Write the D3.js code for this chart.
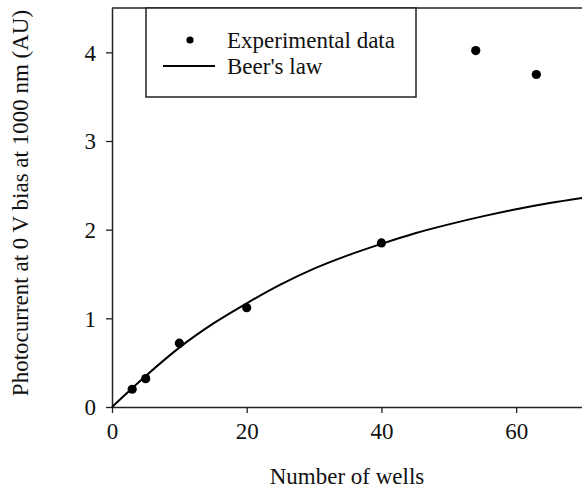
<!DOCTYPE html>
<html>
<head>
<meta charset="utf-8">
<script src="https://cdn.jsdelivr.net/npm/d3@7"></script>
<style>
  body { margin: 0; background: #fff; }
  svg { display: block; }
  text { font-family: "Liberation Serif", "Times New Roman", serif; fill: #111; }
</style>
</head>
<body>
<svg id="chart" width="582" height="489"></svg>
<script>
// experimental points
var wells = [3, 5, 10, 20, 40, 54, 63];
var photocurrent = [0.2, 0.32, 0.72, 1.12, 1.85, 4.02, 3.75];

// Beer's law curve
var fitWells = [0, 5, 10, 15, 20, 25, 30, 35, 40, 45, 50, 55, 60, 65, 70];
var fitCurrent = [0, 0.35, 0.67, 0.94, 1.17, 1.38, 1.56, 1.71, 1.84, 1.96, 2.06, 2.15, 2.23, 2.30, 2.36];

var xTicks = [0, 20, 40, 60];
var yTicks = [0, 1, 2, 3, 4];

var xTitle = "Number of wells";
var yTitle = "Photocurrent at 0 V bias at 1000 nm (AU)";
var legendLabels = ["Experimental data", "Beer's law"];

var svg = d3.select("#chart");
var plotLeft = 112, plotRight = 583.5, plotTop = 8, plotBottom = 407;
var fontSize = "23px";

var xScale = d3.scaleLinear().domain([0, 70]).range([plotLeft, plotRight]);
var yScale = d3.scaleLinear().domain([0, 4.5]).range([plotBottom, plotTop]);

// frame top line
svg.append("line")
	.attr("x1", plotLeft).attr("x2", 582)
	.attr("y1", plotTop).attr("y2", plotTop)
	.style("stroke", "#222").style("stroke-width", "1.5px");

var xAxis = svg.append("g")
	.attr("transform", "translate(0," + plotBottom + ")")
	.call(d3.axisBottom(xScale).tickValues(xTicks).tickFormat(d3.format("d"))
		.tickSize(6).tickSizeOuter(0).tickPadding(6));
var yAxis = svg.append("g")
	.attr("transform", "translate(" + plotLeft + ",0)")
	.call(d3.axisLeft(yScale).tickValues(yTicks).tickFormat(d3.format("d"))
		.tickSize(6).tickSizeOuter(0).tickPadding(10));

[xAxis, yAxis].forEach(function(ax) {
	ax.select(".domain").style("stroke", "#222").style("stroke-width", "1.5px");
	ax.selectAll(".tick line").style("stroke", "#222").style("stroke-width", "1.3px");
	ax.selectAll(".tick text")
		.style("font-family", "'Liberation Serif', serif")
		.style("font-size", fontSize)
		.style("fill", "#111");
});
yAxis.selectAll(".tick text").attr("dy", "0.34em");
xAxis.selectAll(".tick text").attr("dy", "0.85em");

// Beer's law curve
var fitData = fitWells.map((d, i) => ({x: d, y: fitCurrent[i]}));
var line = d3.line()
	.x(d => xScale(d.x))
	.y(d => yScale(d.y))
	.curve(d3.curveMonotoneX);
svg.append("path")
	.datum(fitData)
	.attr("d", line)
	.style("fill", "none")
	.style("stroke", "#000")
	.style("stroke-width", "2px");

// experimental points
svg.selectAll("circle.pt")
	.data(wells)
	.enter()
	.append("circle")
	.attr("class", "pt")
	.attr("cx", d => xScale(d))
	.attr("cy", (d, i) => yScale(photocurrent[i]))
	.attr("r", 4.6)
	.style("fill", "#000");

// legend
var legend = svg.append("g");
legend.append("rect")
	.attr("x", 146).attr("y", plotTop)
	.attr("width", 270).attr("height", 89)
	.style("fill", "#fff")
	.style("stroke", "#222")
	.style("stroke-width", "1.5px");
legend.append("circle")
	.attr("cx", 190).attr("cy", 40).attr("r", 3.6)
	.style("fill", "#000");
legend.append("line")
	.attr("x1", 163).attr("x2", 215)
	.attr("y1", 66).attr("y2", 66)
	.style("stroke", "#000").style("stroke-width", "2px");
legend.selectAll("text")
	.data(legendLabels)
	.enter()
	.append("text")
	.attr("x", 227)
	.attr("y", (d, i) => 48 + i * 26)
	.style("font-size", fontSize)
	.text(d => d);

// axis titles
svg.append("text")
	.attr("x", 347)
	.attr("y", 484)
	.attr("text-anchor", "middle")
	.style("font-size", fontSize)
	.text(xTitle);
svg.append("text")
	.attr("transform", "translate(28,203) rotate(-90)")
	.attr("text-anchor", "middle")
	.style("font-size", fontSize)
	.text(yTitle);
</script>
</body>
</html>
